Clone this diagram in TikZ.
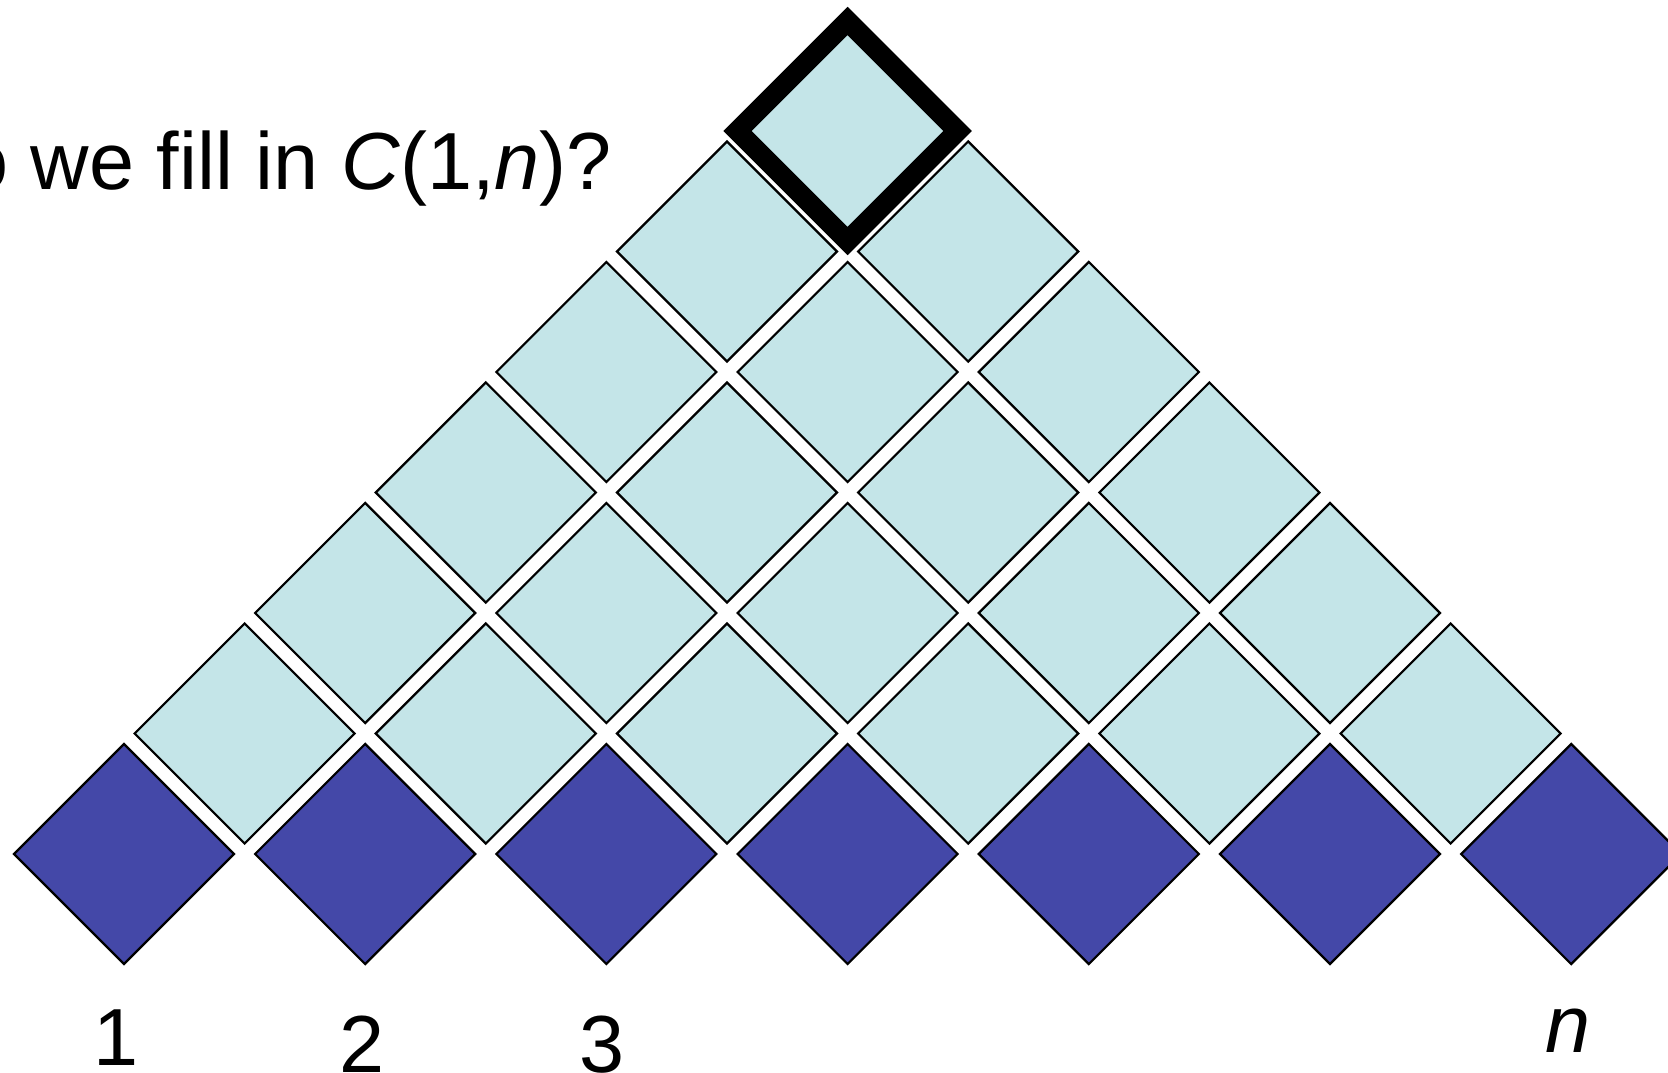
\documentclass[tikz,border=0pt]{standalone}
\usepackage{fontspec}
\setmainfont{Liberation Sans}
\definecolor{lightcell}{RGB}{196,229,232}
\definecolor{basecell}{RGB}{68,72,168}
\tikzset{
  cell/.style={draw=black, line width=2.2pt, fill=lightcell, rectangle, rotate=45,
    minimum size=155.6pt, inner sep=0pt},
  basebox/.style={cell, fill=basecell},
  goalbox/.style={cell, line width=20pt, miter limit=10},
  lbl/.style={inner sep=0pt, anchor=base, font=\fontsize{81}{90}\selectfont}
}
\begin{document}
\begin{tikzpicture}[x=1pt, y=-1pt]
\useasboundingbox (0,0) rectangle (1668,1073);
\clip (0,0) rectangle (1668,1073);
% bottom row (inputs)
\foreach \m in {0,...,6} {
  \node[basebox] (b-\m) at ({124+241.2*\m}, 854) {};
}
% upper rows
\foreach \k in {1,...,5} {
  \pgfmathtruncatemacro{\last}{6-\k}
  \foreach \m in {0,...,\last} {
    \node[cell] (c-\k-\m) at ({124+241.2*\m+120.6*\k}, {854-120.5*\k}) {};
  }
}
% top cell C(1,n)
\node[goalbox] (top) at ({124+120.6*6}, {854-120.5*6}) {};
% title
\node[lbl, anchor=base east] (title) at (612,189) {o we fill in \textit{C}(1,\textit{n})?};
% labels
\node[lbl] (l1) at (116,1065) {1};
\node[lbl] (l2) at (362,1072) {2};
\node[lbl] (l3) at (602,1072) {3};
\node[lbl] (ln) at (1568,1052) {\textit{n}};
\end{tikzpicture}
\end{document}
